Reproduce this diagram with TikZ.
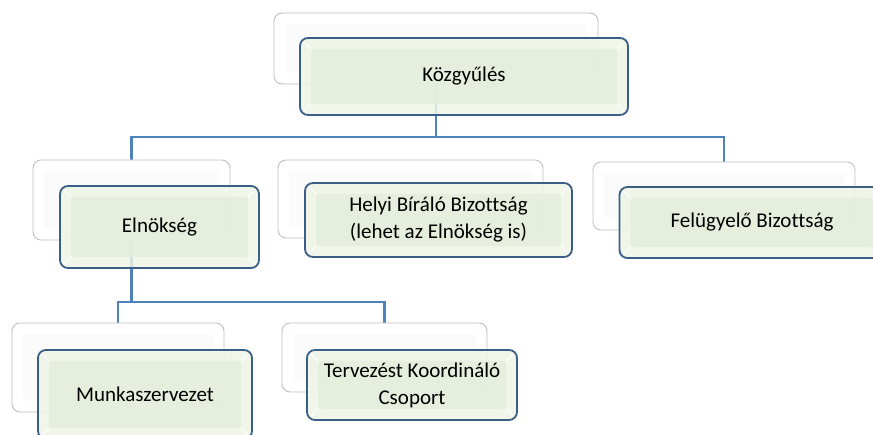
\documentclass[tikz,border=0pt]{standalone}
\usepackage{fontspec}
\setmainfont[Ligatures={CommonOff,ContextualOff},Contextuals=AlternateOff]{Carlito}
\usetikzlibrary{backgrounds}

\definecolor{linkblue}{HTML}{4F81BD}
\definecolor{boxedge}{HTML}{3A5F86}
\definecolor{boxfill}{HTML}{E4EEDA}
\definecolor{bevelgreen}{HTML}{EDF4E6}

\tikzset{
  bevel/.style={path picture={
    \fill[#1, fill opacity=0.8, rounded corners=3pt]
      ([shift={(11pt,-11pt)}]path picture bounding box.north west) rectangle
      ([shift={(-11pt,11pt)}]path picture bounding box.south east);
    \draw[white, line width=0.8pt]
      (path picture bounding box.north west) -- ++(11pt,-11pt)
      (path picture bounding box.north east) -- ++(-11pt,-11pt)
      (path picture bounding box.south west) -- ++(11pt,11pt)
      (path picture bounding box.south east) -- ++(-11pt,11pt);
  }},
  backbox/.style={draw=gray!50, line width=0.9pt, fill=white, rounded corners=8pt,
    inner sep=0pt, bevel=gray!4},
  frontbox/.style={draw=boxedge, line width=1.8pt, fill=bevelgreen, fill opacity=0.85,
    text opacity=1, rounded corners=8pt, inner sep=0pt, align=center, bevel=boxfill},
  conn/.style={draw=linkblue, line width=2.4pt},
}

\begin{document}
\begin{tikzpicture}[x=1pt,y=-1pt,font=\fontsize{21}{27}\selectfont]
\useasboundingbox (0,0) rectangle (873,435);

% back boxes
\node [backbox, minimum width=324pt, minimum height=71pt] (kozback) at (436, 48.5) {};
\node [backbox, minimum width=197pt, minimum height=80pt] (elnback) at (131.5, 200) {};
\node [backbox, minimum width=265pt, minimum height=78pt] (helyback) at (410.5, 199) {};
\node [backbox, minimum width=262pt, minimum height=68pt] (felback) at (724, 196) {};
\node [backbox, minimum width=212pt, minimum height=89pt] (munkback) at (118, 367.5) {};
\node [backbox, minimum width=205pt, minimum height=69pt] (tervback) at (384.5, 357.5) {};

% front boxes
\node [frontbox, minimum width=328pt, minimum height=77pt] (koz) at (464, 76.5) {Közgyűlés};
\node [frontbox, minimum width=199pt, minimum height=82pt] (eln) at (159.5, 227) {Elnökség};
\node [frontbox, minimum width=267pt, minimum height=74pt] (hely) at (438.5, 220)
  {Helyi Bíráló Bizottság\\(lehet az Elnökség is)};
\node [frontbox, minimum width=265pt, minimum height=71pt] (fel) at (752, 222.5) {Felügyelő Bizottság};
\node [frontbox, minimum width=214pt, minimum height=89pt] (munka) at (145, 394.5) {Munkaszervezet};
\node [frontbox, minimum width=210pt, minimum height=70pt] (terv) at (412, 385)
  {Tervezést Koordináló\\Csoport};

\coordinate (bustop) at (0, 137);
\coordinate (buslow) at (0, 302);

\begin{scope}[on background layer]
\draw [conn] (kozback.center) -- (kozback.center |- bustop) -| (elnback.north);
\draw [conn] (kozback.center |- bustop) -| (felback.north);
\draw [conn] (elnback.center) -- (elnback.center |- buslow) -| (munkback.north);
\draw [conn] (elnback.center |- buslow) -| (tervback.north);
\end{scope}

\end{tikzpicture}
\end{document}
